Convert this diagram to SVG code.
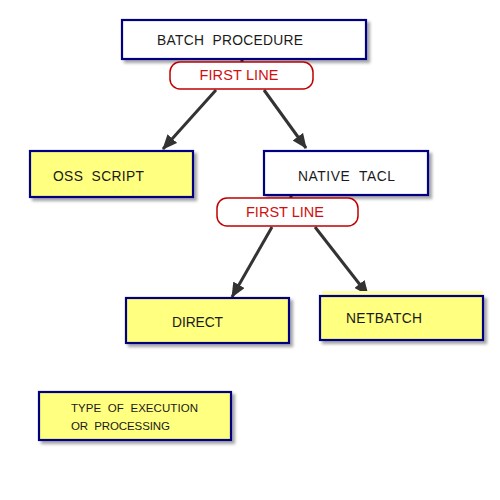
<svg xmlns="http://www.w3.org/2000/svg" width="500" height="500" viewBox="0 0 500 500">
<defs>
<filter id="sh" x="-10%" y="-10%" width="130%" height="140%">
<feDropShadow dx="3" dy="3" stdDeviation="1.8" flood-color="#000" flood-opacity="0.35"/>
</filter>
<marker id="ah" viewBox="0 0 15 13" refX="14" refY="6.5" markerWidth="15" markerHeight="13" markerUnits="userSpaceOnUse" orient="auto">
<path d="M0,0 L15,6.5 L0,13 Z" fill="#333"/>
</marker>
<style>
.box{stroke:#000080;stroke-width:2.2;filter:url(#sh)}
.y{fill:#ffff80}
.w{fill:#fff}
.pill{fill:#fff;stroke:#c00000;stroke-width:1.5}
.t{font-family:"Liberation Sans",Arial,sans-serif;font-size:13.8px;fill:#1a1a1a}
.s{font-size:11.5px}
.r{font-family:"Liberation Sans",Arial,sans-serif;font-size:14.5px;fill:#d01010;text-anchor:middle}
.c{stroke:#333;stroke-width:3;fill:none}
</style>
</defs>
<rect width="500" height="500" fill="#fff"/>
<g id="connectors">
<line class="c" x1="242" y1="59" x2="242" y2="63"/>
<line class="c" x1="291" y1="195" x2="291" y2="199"/>
<line class="c" x1="216" y1="90" x2="163" y2="149" marker-end="url(#ah)"/>
<line class="c" x1="264" y1="90" x2="306" y2="148" marker-end="url(#ah)"/>
<line class="c" x1="272" y1="227" x2="232" y2="297" marker-end="url(#ah)"/>
<line class="c" x1="315" y1="227" x2="368" y2="295" marker-end="url(#ah)"/>
</g>
<g id="batch">
<rect class="box w" x="122" y="20" width="244" height="39"/>
<text class="t" x="157" y="45" xml:space="preserve" textLength="146">BATCH  PROCEDURE</text>
</g>
<g id="firstline1">
<rect class="pill" x="170" y="62" width="143" height="27" rx="10"/>
<text class="r" x="239" y="80" textLength="79">FIRST LINE</text>
</g>
<g id="oss">
<rect class="box y" x="30" y="151" width="163" height="46"/>
<text class="t" x="53" y="181" xml:space="preserve" textLength="91">OSS  SCRIPT</text>
</g>
<g id="native">
<rect class="box w" x="264" y="151" width="164" height="44"/>
<text class="t" x="298" y="181" xml:space="preserve" textLength="97">NATIVE  TACL</text>
</g>
<g id="firstline2">
<rect class="pill" x="217" y="198" width="141" height="28" rx="10"/>
<text class="r" x="285" y="217" textLength="78">FIRST LINE</text>
</g>
<g id="direct">
<rect class="box y" x="126" y="298" width="163" height="45"/>
<text class="t" x="172" y="327" textLength="51">DIRECT</text>
</g>
<g id="netbatch">
<rect x="322" y="291" width="161" height="6" fill="#ffffa8"/>
<rect class="box y" x="320" y="296" width="163" height="44"/>
<text class="t" x="346" y="323" textLength="76">NETBATCH</text>
</g>
<g id="legend">
<rect class="box y" x="39" y="392" width="192" height="48"/>
<text class="t s" x="71" y="412" xml:space="preserve" textLength="127">TYPE  OF  EXECUTION</text>
<text class="t s" x="71" y="430" xml:space="preserve" textLength="99">OR  PROCESSING</text>
</g>
</svg>
